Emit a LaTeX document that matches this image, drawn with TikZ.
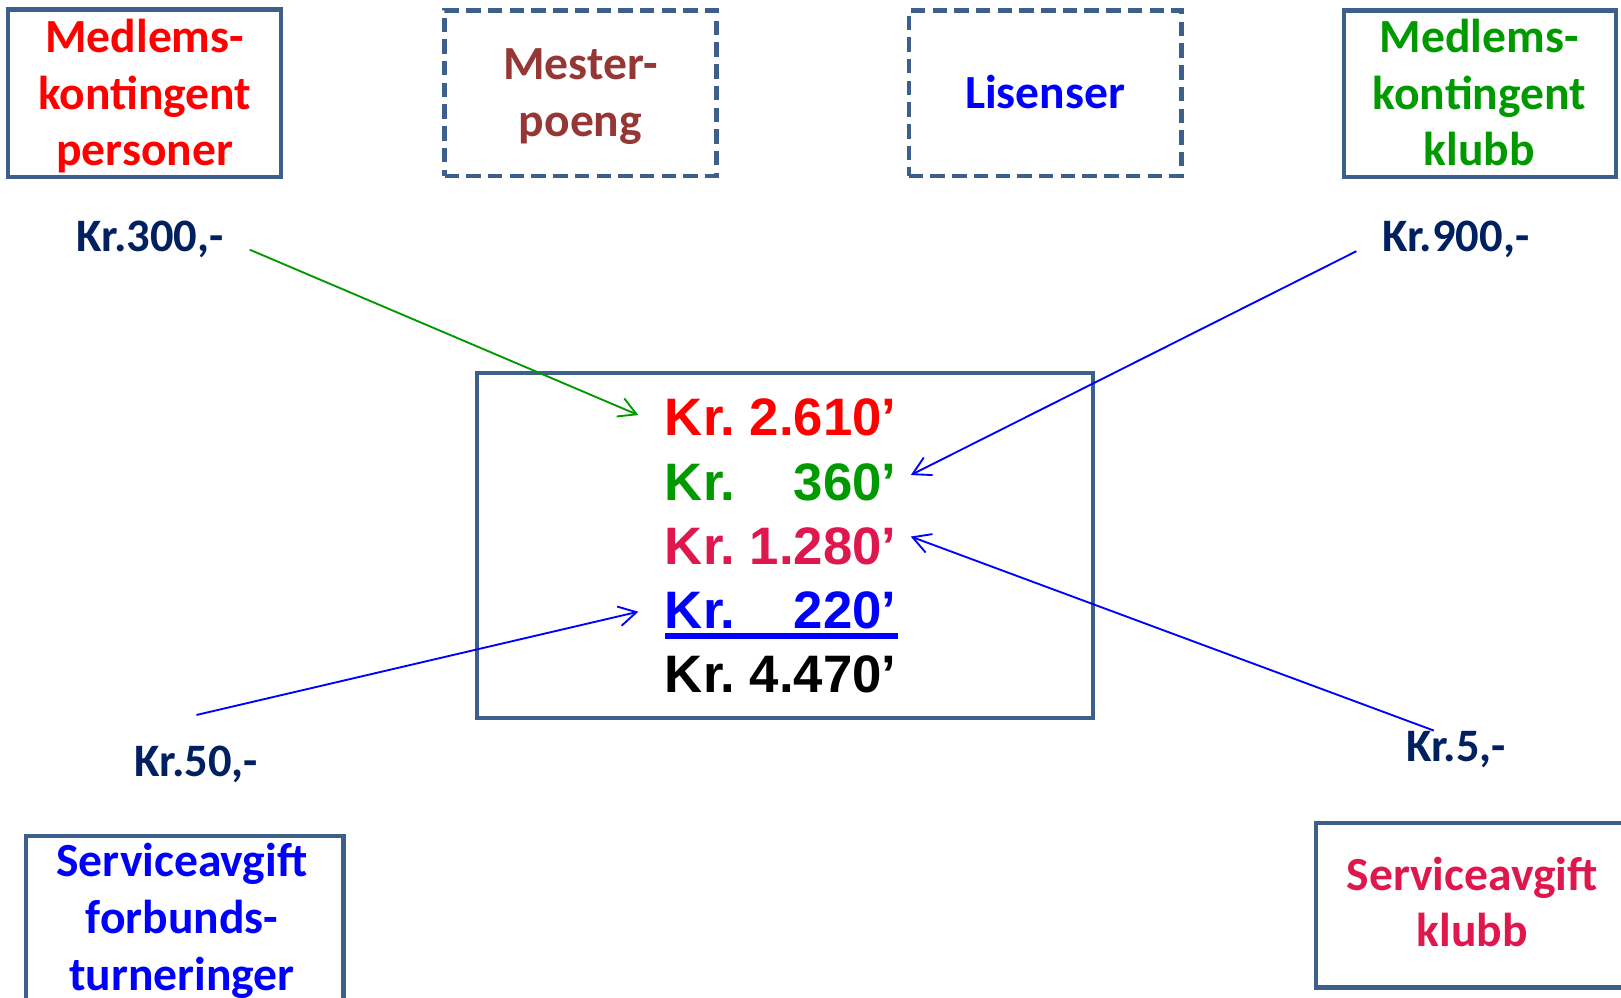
\documentclass[tikz,border=0pt]{standalone}
\usepackage{fontspec}
\setmainfont{Carlito}
\newfontfamily\numfamily{Liberation Sans}
\usetikzlibrary{arrows.meta}
\definecolor{boxblue}{RGB}{60,95,140}
\definecolor{navy}{RGB}{0,32,96}
\definecolor{myred}{RGB}{255,0,0}
\definecolor{mybrown}{RGB}{149,55,53}
\definecolor{myblue}{RGB}{0,0,255}
\definecolor{mygreen}{RGB}{0,153,0}
\definecolor{mycrimson}{RGB}{222,24,76}
\newcommand\mlines[1]{\begin{tabular}[t]{@{}c@{}}#1\end{tabular}}
\begin{document}
\begin{tikzpicture}[x=1pt,y=-1pt,
  box/.style={draw=boxblue, line width=4.3pt, inner sep=0pt},
  dbox/.style={box, dash pattern=on 14pt off 7pt},
  lbl/.style={font=\bfseries\fontsize{46}{55}\selectfont, inner sep=0pt, anchor=base},
  amount/.style={text=navy, font=\bfseries\fontsize{45}{55}\selectfont, inner sep=0pt, anchor=base west},
  conn/.style={line width=1.8pt, -{Straight Barb[length=17pt,width=19pt,line width=1.8pt]}}]
\useasboundingbox (0,0) rectangle (1568,965.35);
\clip (0,0) rectangle (1568,965.35);
% boxes
\node[box, minimum width=264pt, minimum height=162pt] (b1) at (140,90) {};
\node[dbox, minimum width=263pt, minimum height=160pt] (b2) at (561.5,90) {};
\node[dbox, minimum width=264pt, minimum height=160pt] (b3) at (1011,90) {};
\node[box, minimum width=263pt, minimum height=161pt] (b4) at (1431.5,90.5) {};
\node[box, minimum width=307pt, minimum height=220pt, anchor=north west] (b5) at (23,806.6) {};
\node[box, minimum width=340pt, minimum height=159pt, anchor=north west] (b6) at (1271,794) {};
\node[box, minimum width=596pt, minimum height=334pt, anchor=north west] (cb) at (459,358.5) {};
% box texts
\node[lbl, text=myred] (t1) at (140,50.5) {\mlines{Medlems-\\kontingent\\personer}};
\node[lbl, text=mybrown] (t2) at (561.5,77) {\mlines{Mester-\\poeng}};
\node[lbl, text=myblue] (t3) at (1011,105) {Lisenser};
\node[lbl, text=mygreen] (t4) at (1431,50.5) {\mlines{Medlems-\\kontingent\\klubb}};
\node[lbl, text=myblue] (t5) at (176,848) {\mlines{Serviceavgift\\forbunds-\\turneringer}};
\node[lbl, text=mycrimson] (t6) at (1424,861) {\mlines{Serviceavgift\\klubb}};
% amounts
\node[amount] (a1) at (74,243.5) {Kr.300,-};
\node[amount] (a2) at (1337,243.5) {Kr.900,-};
\node[amount] (a3) at (130,751) {Kr.50,-};
\node[amount] (a4) at (1360,737) {Kr.5,-};
% totals
\node[inner sep=0pt, anchor=base west, font=\numfamily\bfseries\fontsize{51}{62}\selectfont] (tot) at (643,421.7)
{\begin{tabular}[t]{@{}l@{}r@{}}
\color{myred}Kr. & \color{myred}\ 2.610’\\
\color{mygreen}Kr. & \color{mygreen}360’\\
\color{mycrimson}Kr. & \color{mycrimson}\ 1.280’\\
\color{myblue}Kr. & \color{myblue}220’\\
\color{black}Kr. & \color{black}\ 4.470’
\end{tabular}};
\coordinate (u0) at (643.7,615);
\coordinate (u1) at (869,615);
\draw[myblue, line width=5.5pt] (u0) -- (u1);
% connectors
\coordinate (g0) at (241.5,241.5); \coordinate (g1) at (617.5,401.5);
\coordinate (c0) at (1312,243);    \coordinate (c1) at (881,459.5);
\coordinate (d0) at (1387,706.7);  \coordinate (d1) at (881,519);
\coordinate (e0) at (190,691.6);   \coordinate (e1) at (617.5,591.7);
\draw[conn, mygreen] (g0) -- (g1);
\draw[conn, myblue] (c0) -- (c1);
\draw[conn, myblue] (d0) -- (d1);
\draw[conn, myblue] (e0) -- (e1);
\end{tikzpicture}
\end{document}
